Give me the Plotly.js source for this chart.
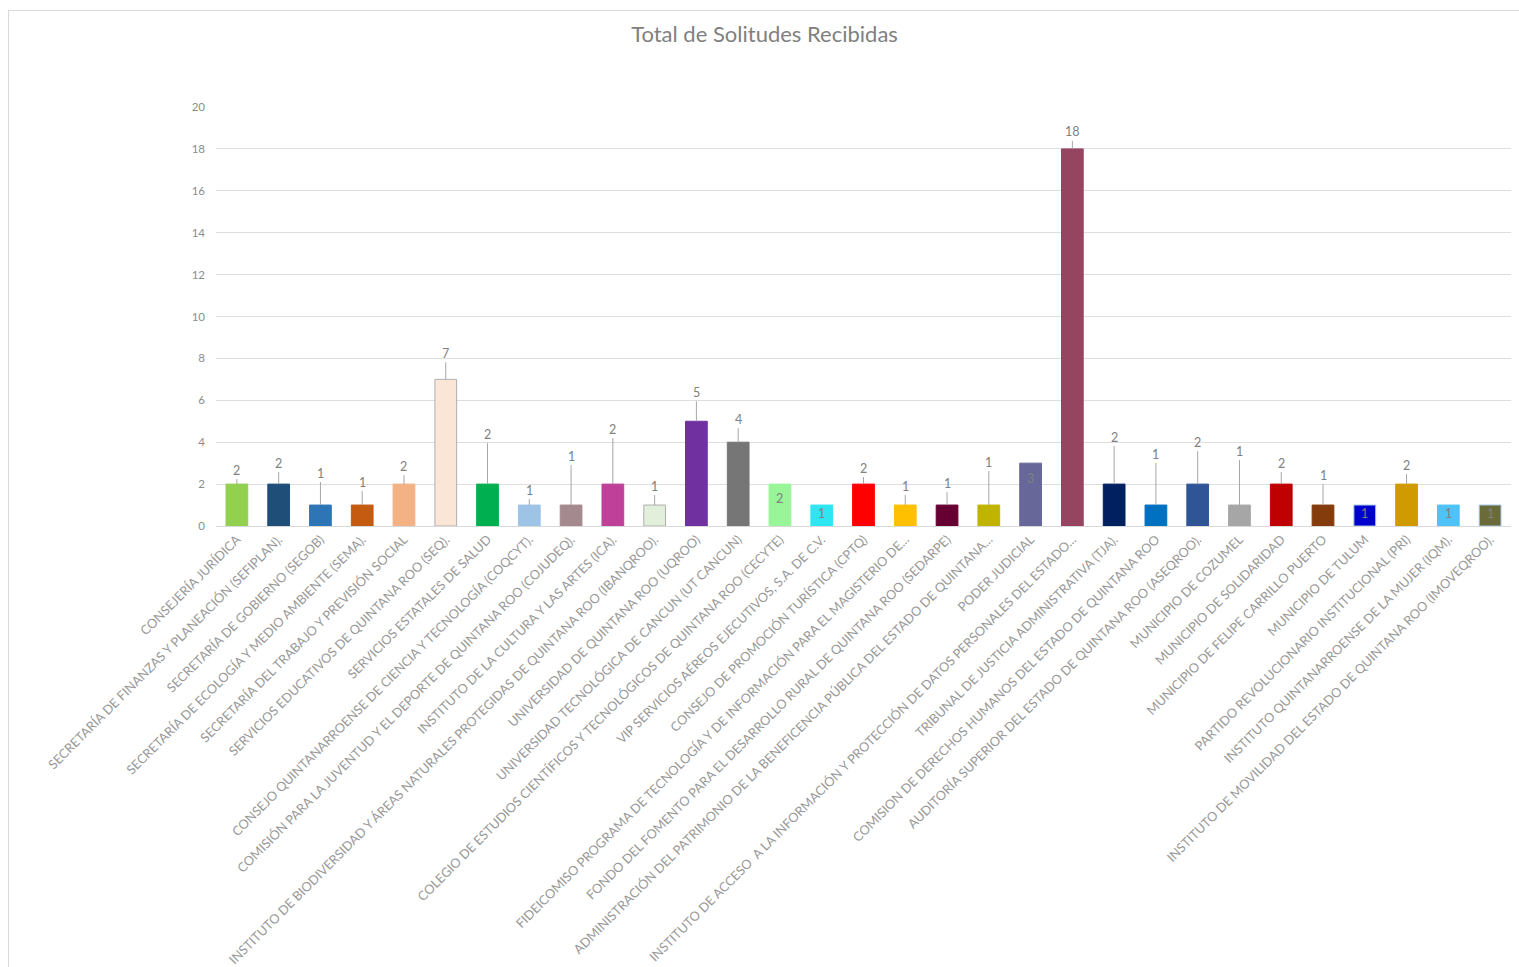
<!DOCTYPE html>
<html>
<head>
<meta charset="utf-8">
<script src="https://cdn.plot.ly/plotly-3.0.1.min.js"></script>
<style>
html,body{margin:0;padding:0;background:#fff;}
#chart{position:absolute;left:8px;top:10px;width:1511px;height:957px;border-top:1px solid #d9d9d9;border-left:1px solid #d9d9d9;box-sizing:border-box;}
</style>
</head>
<body>
<div id="chart"></div>
<script>
const categories = [
  "CONSEJERÍA JURÍDICA",
  "SECRETARÍA DE FINANZAS Y PLANEACIÓN (SEFIPLAN).",
  "SECRETARÍA DE GOBIERNO (SEGOB)",
  "SECRETARÍA DE ECOLOGÍA Y MEDIO AMBIENTE (SEMA).",
  "SECRETARÍA DEL TRABAJO Y PREVISIÓN SOCIAL",
  "SERVICIOS EDUCATIVOS DE QUINTANA ROO (SEQ).",
  "SERVICIOS ESTATALES DE SALUD",
  "CONSEJO QUINTANARROENSE DE CIENCIA Y TECNOLOGÍA (COQCYT).",
  "COMISIÓN PARA LA JUVENTUD Y EL DEPORTE DE QUINTANA ROO (COJUDEQ).",
  "INSTITUTO DE LA CULTURA Y LAS ARTES (ICA).",
  "INSTITUTO DE BIODIVERSIDAD Y ÁREAS NATURALES PROTEGIDAS DE QUINTANA ROO (IBANQROO).",
  "UNIVERSIDAD DE QUINTANA ROO (UQROO)",
  "UNIVERSIDAD TECNOLÓGICA DE CANCUN (UT CANCUN)",
  "COLEGIO DE ESTUDIOS CIENTÍFICOS Y TECNOLÓGICOS DE QUINTANA ROO (CECYTE)",
  "VIP SERVICIOS AÉREOS EJECUTIVOS, S.A. DE C.V.",
  "CONSEJO DE PROMOCIÓN TURÍSTICA (CPTQ)",
  "FIDEICOMISO PROGRAMA DE TECNOLOGÍA Y DE INFORMACIÓN PARA EL MAGISTERIO DE...",
  "FONDO DEL FOMENTO PARA EL DESARROLLO RURAL DE QUINTANA ROO (SEDARPE)",
  "ADMINISTRACIÓN DEL PATRIMONIO DE LA BENEFICENCIA PÚBLICA DEL ESTADO DE QUINTANA...",
  "PODER JUDICIAL",
  "INSTITUTO DE ACCESO  A LA INFORMACIÓN Y PROTECCIÓN DE DATOS PERSONALES DEL ESTADO...",
  "TRIBUNAL DE JUSTICIA ADMINISTRATIVA (TJA).",
  "COMISION DE DERECHOS HUMANOS DEL ESTADO DE QUINTANA ROO",
  "AUDITORÍA SUPERIOR DEL ESTADO DE QUINTANA ROO (ASEQROO).",
  "MUNICIPIO DE COZUMEL",
  "MUNICIPIO DE SOLIDARIDAD",
  "MUNICIPIO DE FELIPE CARRILLO PUERTO",
  "MUNICIPIO DE TULUM",
  "PARTIDO REVOLUCIONARIO INSTITUCIONAL (PRI)",
  "INSTITUTO QUINTANARROENSE DE LA MUJER (IQM).",
  "INSTITUTO DE MOVILIDAD DEL ESTADO DE QUINTANA ROO (IMOVEQROO)."
];
const values = [2,2,1,1,2,7,2,1,1,2,1,5,4,2,1,2,1,1,1,3,18,2,1,2,1,2,1,1,2,1,1];
const yTickValues = [0,2,4,6,8,10,12,14,16,18,20];

// style arrays
const barColors = ["#92d050","#1f4e79","#2e75b6","#c55a11","#f4b183","#fbe5d6","#00b050","#9dc3e6","#a48a8e","#bf4099","#e2efda","#7030a0","#767676","#98f598","#2ee6f2","#ff0000","#ffc000","#660033","#c0b400","#67679a","#964560","#002060","#0070c0","#2f5597","#a6a6a6","#c00000","#843c0c","#0000cc","#d09b00","#4fc3f7","#6b6b3a"];
const barLines = barColors.map((c,i)=> (i===5||i===10) ? "#b0b0b0" : (i===27||i===30 ? "#9dc3e6" : c));
const labelLift = [-14,-21,-32,-23,-18,-26,-50,-15,-49,-55,-19,-29,-23,14,8,-16,-19,-22,-43,15,-17,-47,-51,-42,-54,-21,-30,8,-19,8,8];

const FONT = "Lato, 'Open Sans', sans-serif";
const annotations = values.map((v,i)=>{
  const off = labelLift[i];
  if (off > 0) {
    return {x: categories[i], y: v, text: String(v), showarrow:false, yshift:-off,
            font:{family:FONT, size:12.5, color:"#808080"}};
  }
  return {x: categories[i], y: v, text: String(v), showarrow:true, ax:0, ay:off,
          arrowhead:0, arrowwidth:1, arrowcolor:"#a6a6a6", standoff:0, startstandoff:0,
          font:{family:FONT, size:12.5, color:"#808080"}};
});

const trace = {
  type:"bar",
  x: categories,
  y: values,
  marker:{color: barColors, line:{color: barLines, width:1}},
  hoverinfo:"x+y"
};

const layout = {
  width:1511, height:957,
  margin:{l:207, r:9, t:96, b:442, pad:0},
  paper_bgcolor:"#ffffff",
  plot_bgcolor:"#ffffff",
  title:{text:"Total de Solitudes Recibidas", x:0.5, xanchor:"center", y:0.976, yanchor:"middle",
         font:{family:FONT, size:22, color:"#808080"}},
  bargap:0.48,
  showlegend:false,
  annotations: annotations,
  xaxis:{
    type:"category",
    tickangle:-45,
    automargin:false,
    showgrid:false,
    showline:true, linecolor:"#d9d9d9", linewidth:1,
    ticks:"",
    tickfont:{family:FONT, size:12.8, color:"#999999"}
  },
  yaxis:{
    range:[0,20],
    tickvals:yTickValues,
    ticktext:yTickValues.map(String),
    showgrid:true, gridcolor:"#dedede", gridwidth:1,
    zeroline:false,
    showline:false,
    ticks:"",
    ticklabelstandoff:10,
    automargin:false,
    tickfont:{family:FONT, size:11.5, color:"#8c8c8c"}
  }
};

Plotly.newPlot("chart", [trace], layout, {displayModeBar:false, responsive:false});
</script>
</body>
</html>
